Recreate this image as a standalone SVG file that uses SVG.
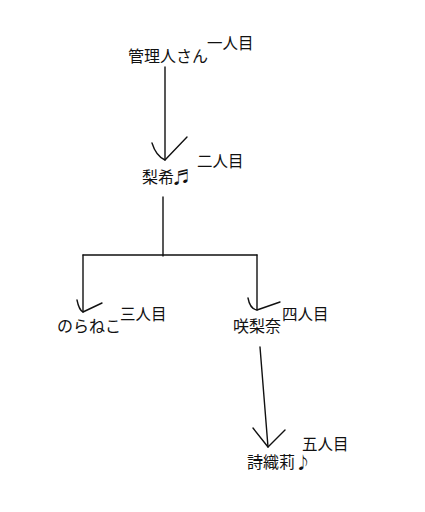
<svg xmlns="http://www.w3.org/2000/svg" width="425" height="512" viewBox="0 0 425 512">
<style>
text{font-family:"Noto Sans CJK JP","Noto Sans CJK SC",sans-serif;font-size:16px;fill:#111}
text.l{font-size:15.5px}
.c{fill:none;stroke:#111;stroke-width:1.4;stroke-linecap:round;stroke-linejoin:round}
</style>
<rect width="425" height="512" fill="#fff"/>
<g id="connectors">
<path class="c" d="M165 67 L165 160"/>
<path class="c" d="M152 143 Q156 156 165 160 L187 137"/>
<path class="c" d="M163 197 L163 256"/>
<path class="c" d="M83 255 L257 255"/>
<path class="c" d="M83 255 L83 312"/>
<path class="c" d="M77 300 Q79 310 83 312 L102 303"/>
<path class="c" d="M257 255 L257 310"/>
<path class="c" d="M248 298 Q250 309 257 310 L280 302"/>
<path class="c" d="M260 347 L268 447"/>
<path class="c" d="M253 428 L268 447 L285 430"/>
</g>
<g id="n1"><text x="128" y="62">管理人さん</text><text class="l" x="207" y="49">一人目</text></g>
<g id="n2"><text x="142" y="183">梨希♬</text><text class="l" x="197" y="167">二人目</text></g>
<g id="n3"><text x="57" y="332">のらねこ</text><text class="l" x="120" y="320">三人目</text></g>
<g id="n4"><text x="233" y="332">咲梨奈</text><text class="l" x="282" y="320">四人目</text></g>
<g id="n5"><text x="247" y="468">詩織莉♪</text><text class="l" x="302" y="450">五人目</text></g>
</svg>
